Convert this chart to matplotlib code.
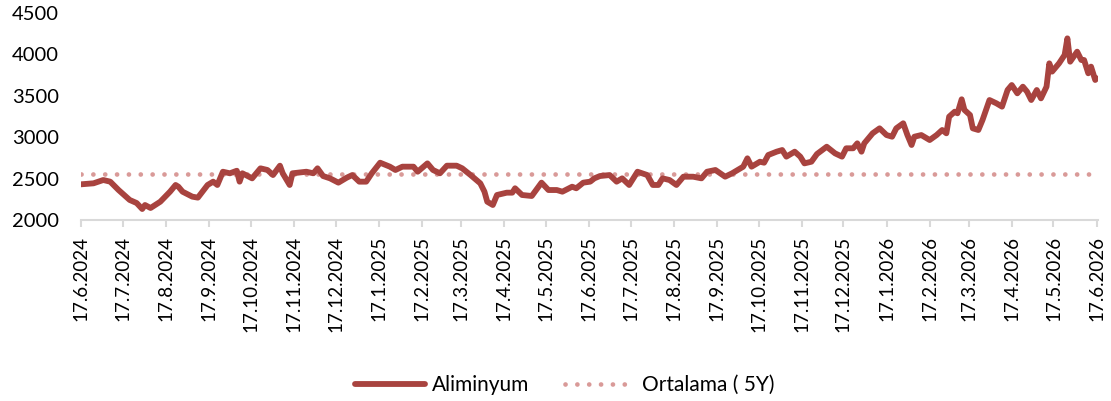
import matplotlib
matplotlib.use("Agg")
import matplotlib.pyplot as plt
import pandas as pd

start_date = "2024-06-17"
end_date = "2026-06-17"
days_since_start = [0, 9, 16, 21, 27, 35, 40, 44, 46, 50, 57, 64, 68, 70, 73, 80, 84, 91, 95, 98,
                    102, 107, 112, 114, 116, 123, 129, 134, 138, 143, 145, 150, 152, 162, 167, 170,
                    174, 179, 185, 191, 195, 200, 205, 209, 215, 222, 226, 231, 239, 242, 249, 253,
                    258, 263, 270, 274, 280, 287, 290, 292, 296, 299, 306, 310, 312, 317, 324, 331,
                    336, 342, 346, 353, 356, 361, 366, 369, 373, 380, 385, 389, 394, 400, 407, 411,
                    415, 418, 423, 428, 433, 440, 446, 450, 456, 463, 468, 476, 479, 482, 488, 491,
                    494, 500, 504, 507, 513, 517, 520, 525, 529, 536, 542, 547, 550, 555, 558, 561,
                    563, 569, 574, 579, 583, 586, 591, 594, 597, 599, 604, 610, 615, 619, 622, 624,
                    628, 630, 633, 635, 639, 641, 645, 648, 653, 658, 662, 666, 669, 673, 677, 680,
                    683, 687, 690, 694, 696, 698, 703, 707, 709, 711, 716, 719, 721, 724, 726, 729, 730]
aluminium = [2431, 2443, 2483, 2463, 2362, 2242, 2205, 2133, 2181, 2145, 2221, 2342, 2423, 2402, 2342, 2282, 2270, 2423, 2463, 2423,
             2583, 2564, 2595, 2463, 2564, 2503, 2624, 2604, 2543, 2656, 2564, 2423, 2564, 2583, 2564, 2624,
             2531, 2503, 2451, 2511, 2543, 2463, 2463, 2564, 2692, 2644, 2604, 2644, 2644, 2583, 2684, 2604,
             2564, 2656, 2656, 2624, 2543, 2443, 2342, 2221, 2181, 2302, 2330, 2330, 2383, 2302, 2290, 2451,
             2362, 2362, 2342, 2402, 2383, 2451, 2463, 2503, 2531, 2543, 2463, 2503, 2423, 2583, 2543, 2423,
             2423, 2503, 2483, 2423, 2523, 2523, 2503, 2583, 2604, 2523, 2564, 2644, 2745, 2644, 2704, 2692,
             2785, 2825, 2845, 2765, 2825, 2765, 2684, 2704, 2797, 2885, 2805, 2765, 2866, 2866, 2926, 2825,
             2926, 3047, 3107, 3026, 3006, 3107, 3168, 3026, 2906, 3006, 3026, 2966, 3026, 3087, 3047, 3248,
             3308, 3289, 3458, 3329, 3268, 3107, 3087, 3208, 3449, 3409, 3369, 3570, 3630, 3530, 3610, 3550,
             3449, 3570, 3469, 3610, 3892, 3792, 3892, 3993, 4194, 3912, 4033, 3932, 3932, 3772, 3852, 3691, 3711]
average_5y = 2560
y_ticks = [2000, 2500, 3000, 3500, 4000, 4500]
series_labels = ["Aliminyum", "Ortalama ( 5Y)"]

plt.rcParams['font.family'] = ['Lato', 'DejaVu Sans']

dates = pd.Timestamp(start_date) + pd.to_timedelta(days_since_start, unit="D")
tick_dates = pd.date_range(start_date, end_date, freq=pd.DateOffset(months=1))

fig = plt.figure(figsize=(11.11, 4.01), dpi=100)
ax = fig.add_axes([81/1111, 1-220/401, (1098-81)/1111, (220-13)/401])

ax.plot(dates, aluminium, color="#A8433F", lw=4.2, solid_capstyle="round",
        solid_joinstyle="round", label=series_labels[0], zorder=3)
ax.plot([pd.Timestamp(start_date), pd.Timestamp(end_date)], [average_5y, average_5y],
        color="#D99A98", lw=3.4, linestyle=(0, (0.01, 2.5)), dash_capstyle="round",
        label=series_labels[1], zorder=2)

ax.set_xlim(pd.Timestamp(start_date), pd.Timestamp(end_date) + pd.Timedelta(days=1))
ax.set_ylim(2000, 4500)
ax.set_yticks(y_ticks)
ax.set_xticks(tick_dates)
ax.set_xticklabels([f"{d.day}.{d.month}.{d.year}" for d in tick_dates], rotation=90)
for s in ["top", "right", "left"]:
    ax.spines[s].set_visible(False)
ax.spines["bottom"].set_color("#D9D9D9")
ax.spines["bottom"].set_linewidth(1.5)
ax.tick_params(axis="x", colors="#D9D9D9", length=5, width=1.5, labelcolor="black",
               labelsize=13.5, pad=6.5)
ax.tick_params(axis="y", length=0, labelsize=14.5, pad=16)

fig.legend(loc="center", bbox_to_anchor=(0.508, 0.04), ncol=2, frameon=False,
           fontsize=15, handlelength=3.4, columnspacing=1.7, handletextpad=0.3)

fig.savefig("out.png", dpi=100)
